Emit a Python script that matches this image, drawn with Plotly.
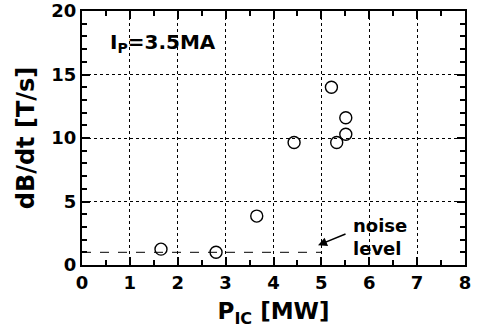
import plotly.graph_objects as go

p_ic = [1.65, 2.8, 3.65, 4.43, 5.21, 5.32, 5.51, 5.51]
dbdt = [1.25, 1.0, 3.85, 9.65, 14.0, 9.65, 11.6, 10.3]
noise_x = [0, 5]
noise_y = [1.0, 1.0]

FONT = "DejaVu Sans, Liberation Sans, Arial, sans-serif"

fig = go.Figure()
fig.add_trace(go.Scatter(x=noise_x, y=noise_y, mode="lines",
                         line=dict(color="black", width=1, dash="dash"),
                         showlegend=False, hoverinfo="skip"))
fig.add_trace(go.Scatter(x=p_ic, y=dbdt, mode="markers",
                         marker=dict(symbol="circle-open", size=12, color="black",
                                     line=dict(width=1.4, color="black")),
                         showlegend=False))

axis_common = dict(showline=True, linecolor="black", linewidth=2, mirror="ticks",
                   ticks="inside", ticklen=8, tickwidth=1.5, tickcolor="black",
                   showgrid=True, gridcolor="black", gridwidth=1, griddash="dot",
                   zeroline=False, automargin=False,
                   tickfont=dict(family=FONT, size=18, color="black", weight="bold"))

fig.update_xaxes(range=[0, 8], dtick=1, tick0=0, ticklabelstandoff=0,
                 minor=dict(ticks="inside", ticklen=5, dtick=0.5, tickcolor="black", showgrid=False),
                 title=dict(text="P<sub>IC</sub> [MW]", standoff=11,
                            font=dict(family=FONT, size=23, color="black", weight="bold")),
                 **axis_common)
fig.update_yaxes(range=[0, 20], dtick=5, tick0=0,
                 minor=dict(ticks="inside", ticklen=5, dtick=1, tickcolor="black", showgrid=False),
                 title=dict(text="dB/dt [T/s]", standoff=10,
                            font=dict(family=FONT, size=24, color="black", weight="bold")),
                 **axis_common)

fig.add_annotation(x=0.55, y=17.5, xref="x", yref="y", xanchor="left", yanchor="middle",
                   text="I<sub>P</sub>=3.5MA", showarrow=False,
                   font=dict(family=FONT, size=20, color="black", weight="bold"))
fig.add_annotation(x=4.93, y=1.55, xref="x", yref="y",
                   ax=29, ay=-12, text="", showarrow=True,
                   arrowhead=2, arrowsize=1.2, arrowwidth=1.5, arrowcolor="black")
fig.add_annotation(x=5.62, y=2.2, xref="x", yref="y", xanchor="left", yanchor="middle",
                   text="noise<br>level", showarrow=False, align="left",
                   font=dict(family=FONT, size=18, color="black", weight="bold"))

fig.update_layout(width=480, height=332, margin=dict(l=82, r=15, t=11, b=67),
                  plot_bgcolor="white", paper_bgcolor="white")

fig.write_html("out.html", config={"displayModeBar": False},
               post_script="document.body.style.margin='0';")
